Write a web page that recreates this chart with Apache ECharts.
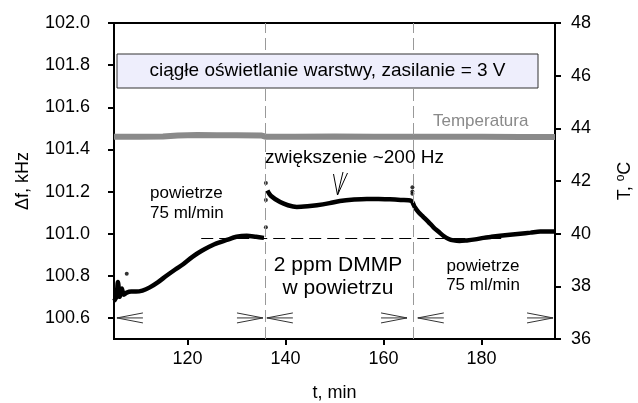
<!DOCTYPE html>
<html><head><meta charset="utf-8">
<script src="https://cdn.jsdelivr.net/npm/echarts@6/dist/echarts.min.js"></script>
<style>html,body{margin:0;padding:0;background:#fff}#c{width:638px;height:403px}</style>
</head><body><div id="c"></div>
<script>
// time axis (min)
const xTicks = [120, 140, 160, 180];
const leftTicks = [100.6, 100.8, 101.0, 101.2, 101.4, 101.6, 101.8, 102.0];
const rightTicks = [36, 38, 40, 42, 44, 46, 48];

// frequency, segment before DMMP (air)
const fT1 = [105.0, 105.5, 105.8, 106.2, 106.6, 107.0, 107.6, 108.5, 109.5, 110.8, 112.3, 114.0, 115.7, 117.5, 119.1, 121.0, 123.0, 125.5, 128.0, 130.0, 132.1, 134.0, 135.6];
const fV1 = [100.68, 100.70, 100.77, 100.70, 100.74, 100.71, 100.72, 100.725, 100.725, 100.73, 100.745, 100.77, 100.80, 100.83, 100.855, 100.89, 100.92, 100.95, 100.97, 100.985, 100.99, 100.985, 100.98];
// frequency, DMMP + air segment
const fT2 = [136.3, 137.0, 138.9, 140.5, 142.3, 144.5, 146.4, 149.0, 151.1, 154.0, 156.6, 159.0, 161.3, 163.5, 165.7, 166.1, 166.4, 167.2, 168.1, 169.2, 170.2, 171.2, 172.2, 173.3, 174.3, 175.5, 177.0, 178.7, 180.4, 182.0, 183.8, 185.8, 187.9, 190.0, 192.0, 195.0];
const fV2 = [101.205, 101.18, 101.15, 101.135, 101.127, 101.13, 101.135, 101.145, 101.155, 101.162, 101.165, 101.165, 101.163, 101.16, 101.156, 101.14, 101.125, 101.10, 101.08, 101.055, 101.03, 101.01, 100.99, 100.975, 100.968, 100.965, 100.968, 100.973, 100.98, 100.985, 100.99, 100.995, 101.0, 101.005, 101.01, 101.01];
// isolated points
const dotT = [107.6, 136.0, 136.0, 136.0, 165.9, 165.9, 165.9];
const dotV = [100.81, 101.24, 101.16, 101.03, 101.22, 101.20, 101.19];

// temperature
const tempT = [105, 110, 115, 118, 122, 126, 130, 135, 136, 142, 150, 158, 166, 172, 180, 188, 195];
const tempV = [43.68, 43.68, 43.69, 43.73, 43.75, 43.74, 43.74, 43.73, 43.68, 43.68, 43.69, 43.68, 43.68, 43.68, 43.68, 43.67, 43.67];

// phase boundaries and reference level
const phaseLines = [135.8, 166.0];
const refLevel = 100.98;
const refSpan = [122.8, 184.8];
// phase span arrows at level 100.6
const arrowSpans = [[105.6, 135.4], [136.2, 164.8], [167.0, 194.6]];
const arrowLevel = 100.6;

const font = '"Liberation Sans", Arial, sans-serif';
const zip = (a, b) => a.map((v, i) => [v, b[i]]);

const chart = echarts.init(document.getElementById('c'), null, {renderer: 'canvas'});
chart.setOption({
  animation: false,
  grid: {left: 114, right: 83, top: 23, bottom: 64, outerBoundsMode: 'none', containLabel: false, show: true, borderColor: '#000', borderWidth: 2, backgroundColor: 'transparent'},
  xAxis: {
    type: 'value', min: 105, max: 195,
    name: 't, min', nameLocation: 'middle', nameGap: 45,
    nameTextStyle: {fontFamily: font, fontSize: 18, color: '#000'},
    axisLine: {show: true, lineStyle: {color: '#000', width: 2}},
    axisTick: {show: true, length: 6, lineStyle: {color: '#000', width: 2}, customValues: xTicks},
    axisLabel: {fontFamily: font, fontSize: 18, color: '#000', margin: 11, customValues: xTicks},
    splitLine: {show: false}
  },
  yAxis: [{
    type: 'value', min: 100.5, max: 102.0, position: 'left',
    name: 'Δf, kHz', nameLocation: 'middle', nameGap: 82,
    nameTextStyle: {fontFamily: font, fontSize: 18, color: '#000'},
    axisLine: {show: true, lineStyle: {color: '#000', width: 2}},
    axisTick: {show: true, length: 6, lineStyle: {color: '#000', width: 2}, customValues: leftTicks},
    axisLabel: {fontFamily: font, fontSize: 18, color: '#000', margin: 24, customValues: leftTicks, formatter: v => v.toFixed(1)},
    splitLine: {show: false}
  }, {
    type: 'value', min: 36, max: 48, position: 'right',
    name: 'T, {s|o}C', nameLocation: 'middle', nameGap: 60,
    nameTextStyle: {fontFamily: font, fontSize: 18, color: '#000', rich: {s: {fontFamily: font, fontSize: 12, color: '#000', verticalAlign: 'top', padding: [0, 0, 8, 0]}}},
    axisLine: {show: true, lineStyle: {color: '#000', width: 2}},
    axisTick: {show: true, length: 6, lineStyle: {color: '#000', width: 2}, customValues: rightTicks},
    axisLabel: {fontFamily: font, fontSize: 18, color: '#000', margin: 16, customValues: rightTicks},
    splitLine: {show: false}
  }],
  series: [{
    type: 'line', yAxisIndex: 1, data: zip(tempT, tempV), showSymbol: false,
    lineStyle: {color: '#8a8a8a', width: 6}, z: 2,
    markLine: {
      silent: true, symbol: 'none', label: {show: false},
      data: phaseLines.map(x => ({xAxis: x, lineStyle: {color: '#999', type: [12, 5], width: 1}}))
    }
  }, {
    type: 'line', yAxisIndex: 0, data: zip(fT1, fV1), showSymbol: false, smooth: 0.3,
    lineStyle: {color: '#000', width: 4.5}, z: 4,
    markLine: {
      silent: true, symbol: 'none', label: {show: false},
      data: [[{coord: [refSpan[0], refLevel]}, {coord: [refSpan[1], refLevel]}]],
      lineStyle: {color: '#000', type: [12, 6], width: 1}
    }
  }, {
    type: 'line', yAxisIndex: 0, data: zip(fT2, fV2), showSymbol: false, smooth: 0.3,
    lineStyle: {color: '#000', width: 4.5}, z: 4
  }, {
    type: 'scatter', yAxisIndex: 0, data: zip(dotT, dotV), symbolSize: 4,
    itemStyle: {color: '#000'}, z: 4
  }, {
    type: 'custom', yAxisIndex: 0,
    data: arrowSpans.map(s => [s[0], s[1], arrowLevel]),
    renderItem: function (params, api) {
      const a = api.coord([api.value(0), api.value(2)]);
      const b = api.coord([api.value(1), api.value(2)]);
      const L = 26, h = 5;
      const st = {stroke: '#333', lineWidth: 1, fill: null};
      return {type: 'group', children: [
        {type: 'polyline', shape: {points: [[a[0] + L, a[1] - h], [a[0], a[1]], [a[0] + L, a[1] + h]]}, style: st},
        {type: 'line', shape: {x1: a[0], y1: a[1], x2: a[0] + L, y2: a[1]}, style: st},
        {type: 'polyline', shape: {points: [[b[0] - L, b[1] - h], [b[0], b[1]], [b[0] - L, b[1] + h]]}, style: st},
        {type: 'line', shape: {x1: b[0], y1: b[1], x2: b[0] - L, y2: b[1]}, style: st}
      ]};
    },
    z: 5
  }],
  graphic: [
    {type: 'rect', shape: {x: 117, y: 54, width: 421, height: 34}, style: {fill: '#eeeefc', stroke: '#333', lineWidth: 1}, z: 100},
    {type: 'text', x: 327.5, y: 71, style: {text: 'ciągłe oświetlanie warstwy, zasilanie = 3 V', font: '19px ' + font, fill: '#000', align: 'center', verticalAlign: 'middle'}, z: 101},
    {type: 'text', x: 433, y: 121, style: {text: 'Temperatura', font: '17px ' + font, fill: '#8a8a8a', align: 'left', verticalAlign: 'middle'}, z: 101},
    {type: 'text', x: 150, y: 203, style: {text: 'powietrze\n75 ml/min', font: '17px ' + font, lineHeight: 20, fill: '#000', align: 'left', verticalAlign: 'middle'}, z: 101},
    {type: 'text', x: 265, y: 158, style: {text: 'zwiększenie ~200 Hz', font: '19px ' + font, fill: '#000', align: 'left', verticalAlign: 'middle'}, z: 101},
    {type: 'polyline', shape: {points: [[333.5, 174], [337.5, 195], [347.5, 173]]}, style: {stroke: '#000', lineWidth: 1, fill: null}, z: 101},
    {type: 'line', shape: {x1: 337.5, y1: 195, x2: 343, y2: 172}, style: {stroke: '#000', lineWidth: 1}, z: 101},
    {type: 'text', x: 338, y: 277, style: {text: '2 ppm DMMP\nw powietrzu', font: '21px ' + font, lineHeight: 23, fill: '#000', align: 'center', verticalAlign: 'middle'}, z: 101},
    {type: 'text', x: 483, y: 276, style: {text: 'powietrze\n75 ml/min', font: '17px ' + font, lineHeight: 19, fill: '#000', align: 'center', verticalAlign: 'middle'}, z: 101}
  ]
});
</script>
</body></html>
